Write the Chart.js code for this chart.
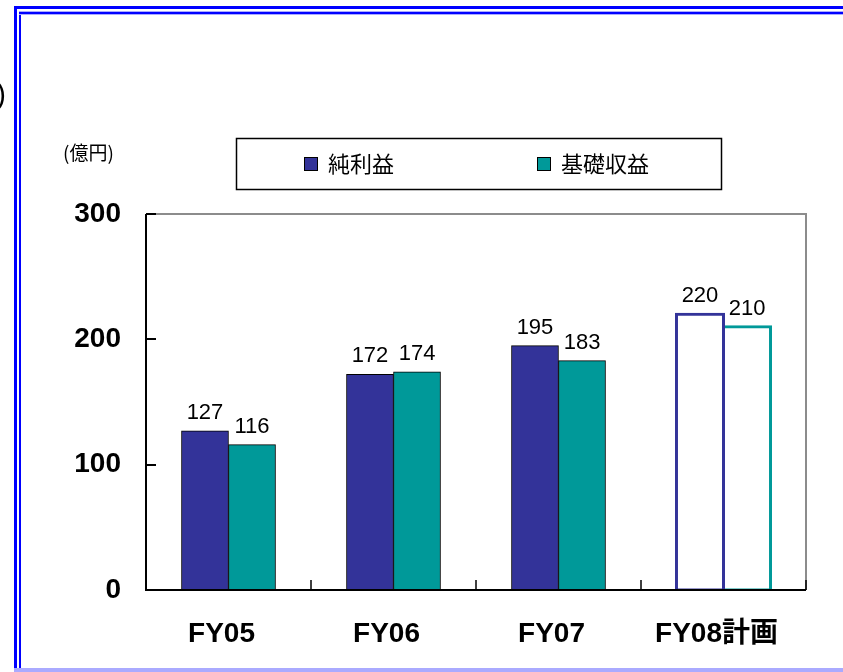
<!DOCTYPE html>
<html>
<head>
<meta charset="utf-8">
<script src="https://cdn.jsdelivr.net/npm/chart.js@4/dist/chart.umd.min.js"></script>
<style>
  html, body { margin: 0; padding: 0; background: #ffffff; }
  #wrap { position: relative; width: 843px; height: 672px; }
  canvas { display: block; }
</style>
</head>
<body>
<div id="wrap"><canvas id="chart" width="843" height="672"></canvas></div>
<script>
// 純利益・基礎収益の推移（億円）
const categories = ['FY05', 'FY06', 'FY07', 'FY08計画'];
const netIncome = [127, 172, 195, 220];
const coreProfit = [116, 174, 183, 210];
const yTickValues = [0, 100, 200, 300];
const seriesNames = ['純利益', '基礎収益'];
const unitLabel = '(億円)';
const planIndex = 3; // 計画値は枠線のみで描く

const NAVY = '#333399';
const TEAL = '#009999';
const LATIN = "'Liberation Sans', Arial, 'Noto Sans CJK JP', sans-serif";
const CJK = "'Noto Sans CJK JP', 'Liberation Sans', sans-serif";

function fillFor(color) {
  return categories.map((_, i) => (i === planIndex ? '#ffffff' : color));
}
function strokeFor(color) {
  return categories.map((_, i) => (i === planIndex ? color : '#000000'));
}
function widthFor() {
  return categories.map((_, i) => (i === planIndex ? 3 : 1));
}
function inflateFor() {
  return categories.map((_, i) => (i === planIndex ? 1.5 : 0.33));
}

// Blue double frame and the stray bracket at the left edge
const framePlugin = {
  id: 'frame',
  beforeDraw(chart) {
    const ctx = chart.ctx;
    ctx.save();
    ctx.fillStyle = '#ffffff';
    ctx.fillRect(0, 0, chart.width, chart.height);
    ctx.fillStyle = '#0000ff';
    ctx.fillRect(14, 6, chart.width, 3);
    ctx.fillRect(14, 6, 3, chart.height);
    ctx.fillRect(19, 12, chart.width, 2);
    ctx.fillRect(19, 12, 2, chart.height);
    ctx.fillStyle = '#aaaaff';
    ctx.fillRect(19, 11, chart.width, 1);
    ctx.fillRect(19, 14, chart.width, 1);
    ctx.fillRect(14, 668, chart.width, 4);
    ctx.fillStyle = '#000000';
    ctx.font = '29px ' + LATIN;
    ctx.textAlign = 'right';
    ctx.textBaseline = 'alphabetic';
    ctx.fillText(')', 6, 104);
    ctx.restore();
  }
};

// Gray frame on top/right, inward tick marks, unit label, legend box, value labels
const decorPlugin = {
  id: 'decor',
  beforeDatasetsDraw(chart) {
    const { ctx, chartArea: a } = chart;
    ctx.save();
    ctx.strokeStyle = '#8c8c8c';
    ctx.lineWidth = 2;
    ctx.beginPath();
    ctx.moveTo(a.left, a.top);
    ctx.lineTo(a.right, a.top);
    ctx.lineTo(a.right, a.bottom);
    ctx.stroke();
    ctx.restore();
  },
  afterDatasetsDraw(chart) {
    const { ctx, chartArea: a, scales } = chart;
    ctx.save();
    ctx.strokeStyle = '#000000';
    ctx.lineWidth = 2;
    ctx.beginPath();
    ctx.moveTo(a.left, a.top);
    ctx.lineTo(a.left, a.bottom);
    ctx.lineTo(a.right, a.bottom);
    ctx.stroke();
    // inward ticks on value axis
    yTickValues.forEach(v => {
      if (v === 0) return;
      const y = Math.round(scales.y.getPixelForValue(v));
      ctx.beginPath();
      ctx.moveTo(a.left, y);
      ctx.lineTo(a.left + 10, y);
      ctx.stroke();
    });
    // inward ticks between categories
    ctx.lineWidth = 1.5;
    const step = (a.right - a.left) / categories.length;
    for (let i = 1; i <= categories.length; i++) {
      const x = Math.round(a.left + step * i);
      ctx.beginPath();
      ctx.moveTo(x, a.bottom);
      ctx.lineTo(x, a.bottom - 10);
      ctx.stroke();
    }
    ctx.restore();
  },
  afterDraw(chart) {
    const ctx = chart.ctx;
    ctx.save();
    // unit
    ctx.fillStyle = '#000000';
    ctx.font = '19px ' + CJK;
    ctx.textAlign = 'left';
    ctx.textBaseline = 'middle';
    ctx.fillText(unitLabel, 63, 153);
    // legend
    ctx.strokeStyle = '#000000';
    ctx.lineWidth = 1.5;
    ctx.strokeRect(236.5, 138.5, 485, 51);
    const items = [
      { name: seriesNames[0], color: NAVY, x: 304 },
      { name: seriesNames[1], color: TEAL, x: 537 }
    ];
    items.forEach(it => {
      ctx.fillStyle = it.color;
      ctx.fillRect(it.x, 157, 14, 14);
      ctx.lineWidth = 1;
      ctx.strokeStyle = '#000000';
      ctx.strokeRect(it.x + 0.5, 157.5, 13, 13);
      ctx.fillStyle = '#000000';
      ctx.font = '22px ' + CJK;
      ctx.textAlign = 'left';
      ctx.textBaseline = 'middle';
      ctx.fillText(it.name, it.x + 24, 164);
    });
    // value labels above bars
    ctx.font = '22px ' + LATIN;
    ctx.textAlign = 'center';
    ctx.textBaseline = 'alphabetic';
    ctx.fillStyle = '#000000';
    chart.data.datasets.forEach((ds, di) => {
      const meta = chart.getDatasetMeta(di);
      meta.data.forEach((bar, i) => {
        ctx.fillText(String(ds.data[i]), bar.x, bar.y - 12);
      });
    });
    ctx.restore();
  }
};

new Chart(document.getElementById('chart'), {
  type: 'bar',
  data: {
    labels: categories,
    datasets: [
      {
        label: seriesNames[0],
        data: netIncome,
        backgroundColor: fillFor(NAVY),
        borderColor: strokeFor(NAVY),
        borderWidth: widthFor(),
        inflateAmount: inflateFor(),
        borderSkipped: false
      },
      {
        label: seriesNames[1],
        data: coreProfit,
        backgroundColor: fillFor(TEAL),
        borderColor: strokeFor(TEAL),
        borderWidth: widthFor(),
        inflateAmount: inflateFor(),
        borderSkipped: false
      }
    ]
  },
  options: {
    responsive: false,
    animation: false,
    devicePixelRatio: 1,
    layout: { padding: { left: 0, top: 214, right: 37, bottom: 0 } },
    datasets: { bar: { categoryPercentage: 0.57, barPercentage: 1.0 } },
    plugins: {
      legend: { display: false },
      tooltip: { enabled: false }
    },
    scales: {
      x: {
        grid: { display: false, drawTicks: false },
        border: { display: false },
        ticks: {
          color: '#000000',
          font: { family: LATIN, size: 28, weight: 'bold' },
          padding: 27,
          labelOffset: -7,
          maxRotation: 0,
          autoSkip: false
        },
        afterFit(s) { s.height = 82; }
      },
      y: {
        min: 0,
        max: 300,
        afterBuildTicks(s) { s.ticks = yTickValues.map(v => ({ value: v })); },
        grid: { display: false, drawTicks: false },
        border: { display: false },
        ticks: {
          color: '#000000',
          font: { family: LATIN, size: 28, weight: 'bold' },
          padding: 25
        },
        afterFit(s) { s.width = 146; }
      }
    }
  },
  plugins: [framePlugin, decorPlugin]
});
</script>
</body>
</html>
